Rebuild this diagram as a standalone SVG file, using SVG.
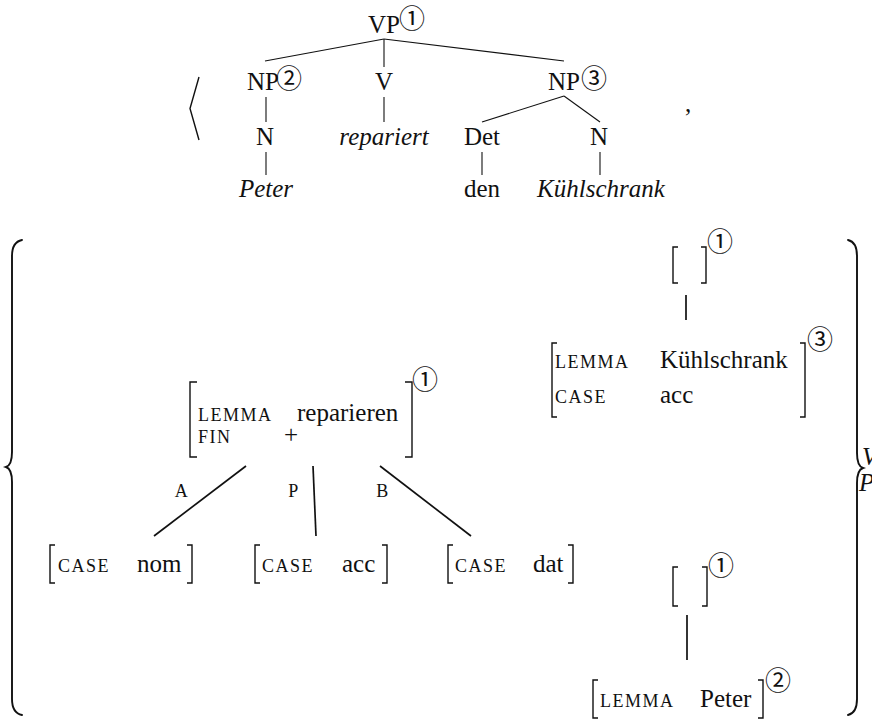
<svg xmlns="http://www.w3.org/2000/svg" width="872" height="719" viewBox="0 0 872 719">
<style>
  text { font-family: "Liberation Serif", "Times New Roman", serif; font-size: 25px; fill: #111; }
  .it { font-style: italic; }
  .m { text-anchor: middle; }
  .sc { font-size: 18px; letter-spacing: 1.5px; }
  .tag { font-family: "Noto Sans CJK JP", "DejaVu Sans", sans-serif; font-size: 26px; text-anchor: middle; }
  .tl { stroke: #111; stroke-width: 1.1; fill: none; }
  .el { stroke: #111; stroke-width: 1.7; fill: none; }
  .br { stroke: #111; stroke-width: 1.4; fill: none; }
  .brace { stroke: #111; stroke-width: 1.9; fill: none; stroke-linecap: round; }
</style>

<!-- angle bracket and comma -->
<polyline class="br" points="199,77 190,108.5 199,140"/>
<text x="685" y="112">,</text>

<!-- top tree connectors -->
<g id="tree-connectors">
  <line class="tl" x1="384" y1="39" x2="265" y2="61"/>
  <line class="tl" x1="384" y1="39" x2="384" y2="67"/>
  <line class="tl" x1="384" y1="39" x2="564" y2="61"/>
  <line class="tl" x1="266" y1="97" x2="266" y2="122"/>
  <line class="tl" x1="266" y1="152" x2="266" y2="175"/>
  <line class="tl" x1="384" y1="97" x2="384" y2="122"/>
  <line class="tl" x1="564" y1="96" x2="482" y2="122"/>
  <line class="tl" x1="564" y1="96" x2="600" y2="122"/>
  <line class="tl" x1="482" y1="152" x2="482" y2="175"/>
  <line class="tl" x1="600" y1="152" x2="600" y2="175"/>
</g>

<g id="vp"><text class="m" x="384" y="33">VP</text><text class="tag" x="412" y="28">①</text></g>
<g id="np2"><text class="m" x="263" y="90">NP</text><text class="tag" x="289" y="88">②</text></g>
<g id="v"><text class="m" x="384" y="90">V</text></g>
<g id="np3"><text class="m" x="564" y="90">NP</text><text class="tag" x="594" y="88">③</text></g>
<g id="n1"><text class="m" x="265" y="145">N</text></g>
<g id="repariert"><text class="m it" x="384" y="145">repariert</text></g>
<g id="det"><text class="m" x="482" y="145">Det</text></g>
<g id="n2"><text class="m" x="599" y="145">N</text></g>
<g id="peter-w"><text class="m it" x="266" y="197">Peter</text></g>
<g id="den"><text class="m" x="482" y="197">den</text></g>
<g id="kuehlschrank-w"><text class="m it" x="601" y="197">Kühlschrank</text></g>

<!-- big braces -->
<path class="brace" d="M22,240 Q12,242 12,256 L12,452 Q12,465 6,467 Q12,469 12,482 L12,699 Q12,713 22,715"/>
<path class="brace" d="M848,240 Q857,242 857,256 L857,453 Q857,466 863,468 Q857,470 857,483 L857,699 Q857,713 848,715"/>
<text class="it" x="862" y="465">V</text>
<text class="it" x="859" y="491">P</text>

<!-- elementary tree connectors -->
<g id="avm-connectors">
  <line class="el" x1="246" y1="466" x2="154" y2="536"/>
  <line class="el" x1="313" y1="466" x2="316" y2="536"/>
  <line class="el" x1="380" y1="466" x2="471" y2="536"/>
  <line class="el" x1="686" y1="295" x2="686" y2="320" stroke-width="2"/>
  <line class="el" x1="687" y1="615" x2="687" y2="660" stroke-width="2"/>
  <text class="m sc" x="182" y="497">A</text>
  <text class="m sc" x="294" y="497">P</text>
  <text class="m sc" x="383" y="497">B</text>
</g>

<g id="avm-verb">
  <path class="br" d="M197,382 H190 V457 H197"/>
  <path class="br" d="M405,382 H412 V457 H405"/>
  <text class="sc" x="198" y="421">LEMMA</text>
  <text x="297" y="421">reparieren</text>
  <text class="sc" x="198" y="443">FIN</text>
  <text x="284" y="443">+</text>
  <text class="tag" x="425" y="389">①</text>
</g>

<g id="avm-nom">
  <path class="br" d="M55,545 H50 V583 H55"/>
  <path class="br" d="M187,545 H192 V583 H187"/>
  <text class="sc" x="58" y="572">CASE</text>
  <text x="137" y="572">nom</text>
</g>
<g id="avm-acc">
  <path class="br" d="M260,545 H255 V583 H260"/>
  <path class="br" d="M382,545 H387 V583 H382"/>
  <text class="sc" x="262" y="572">CASE</text>
  <text x="342" y="572">acc</text>
</g>
<g id="avm-dat">
  <path class="br" d="M453,545 H448 V583 H453"/>
  <path class="br" d="M568,545 H573 V583 H568"/>
  <text class="sc" x="455" y="572">CASE</text>
  <text x="533" y="572">dat</text>
</g>

<g id="avm-empty1">
  <path class="br" d="M678,247 H673 V283 H678"/>
  <path class="br" d="M701,247 H706 V283 H701"/>
  <text class="tag" x="720" y="251">①</text>
</g>
<g id="avm-kuehlschrank">
  <path class="br" d="M557,343 H552 V417 H557"/>
  <path class="br" d="M800,343 H805 V417 H800"/>
  <text class="sc" x="555" y="368">LEMMA</text>
  <text x="660" y="368">Kühlschrank</text>
  <text class="sc" x="555" y="403">CASE</text>
  <text x="660" y="403">acc</text>
  <text class="tag" x="820" y="349">③</text>
</g>

<g id="avm-empty2">
  <path class="br" d="M678,567 H673 V606 H678"/>
  <path class="br" d="M702,567 H707 V606 H702"/>
  <text class="tag" x="721" y="575">①</text>
</g>
<g id="avm-peter">
  <path class="br" d="M598,680 H593 V718 H598"/>
  <path class="br" d="M758,680 H763 V718 H758"/>
  <text class="sc" x="600" y="707">LEMMA</text>
  <text x="700" y="707">Peter</text>
  <text class="tag" x="778" y="690">②</text>
</g>
</svg>
